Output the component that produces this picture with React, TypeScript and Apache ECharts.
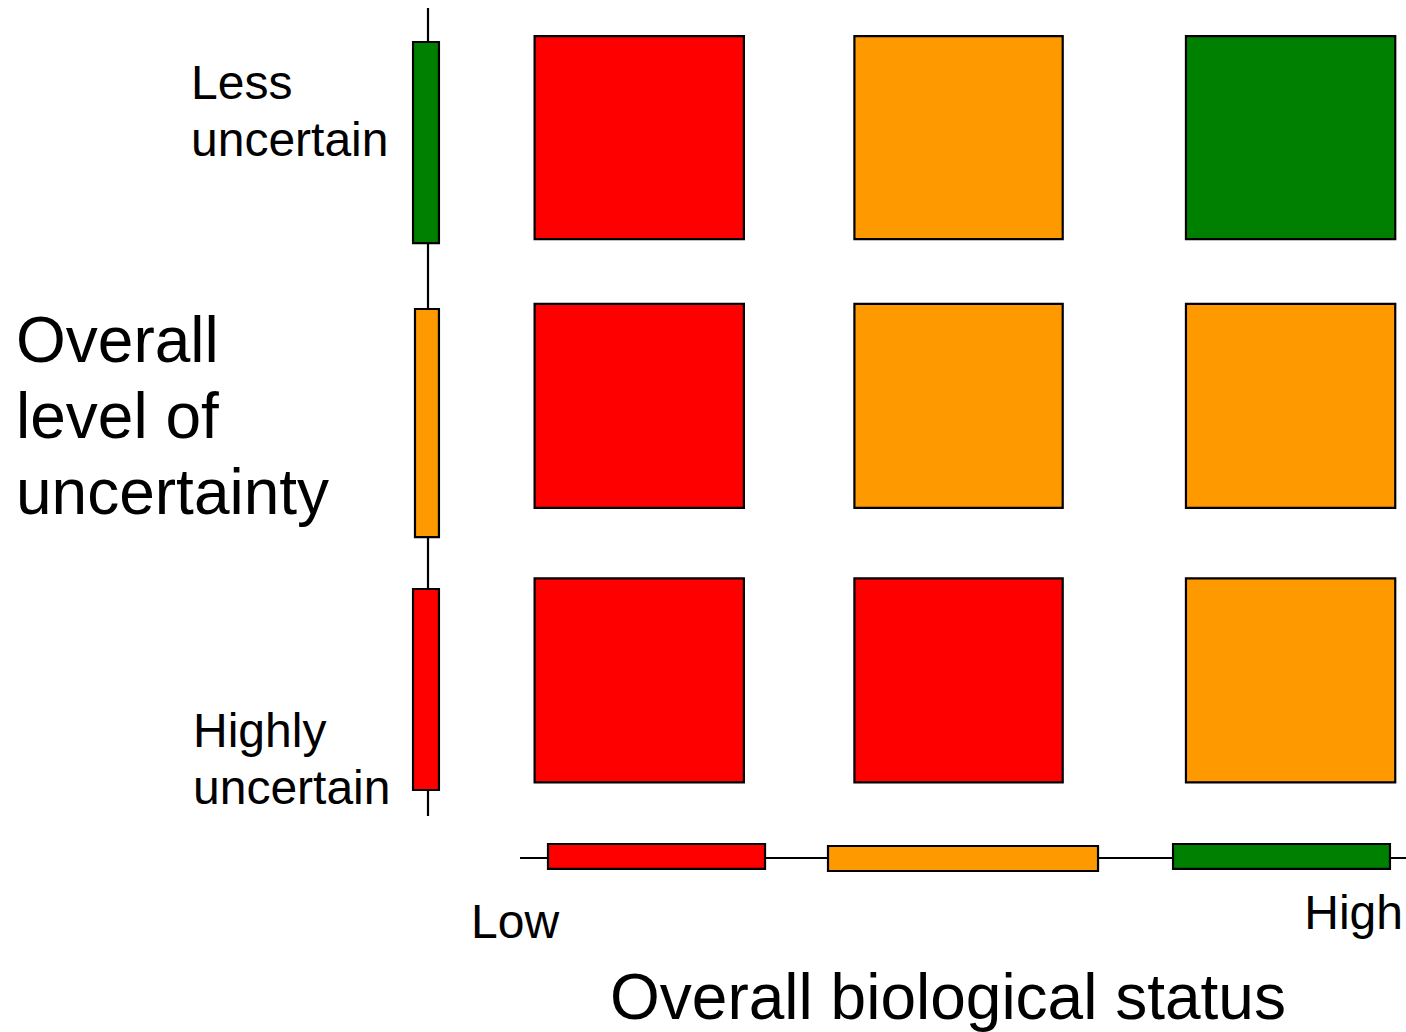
import React, { useEffect, useRef } from "react";
import * as echarts from "echarts";

// Status levels (colour of each level)
const statusColors = ["#FF0000", "#FF9900", "#008000"]; // red, orange, green

// Main 3x3 matrix: x range (biological status scale 0-10), y range (uncertainty scale 0-10)
const colStart = [1.09, 4.36, 7.75];
const colEnd = [3.23, 6.49, 9.89];
// rows from bottom (highly uncertain) to top (less uncertain)
const rowStart = [0.89, 4.12, 7.28];
const rowEnd = [3.29, 6.52, 9.67];
// status index per [row][col], rows bottom -> top
const matrixStatus = [
  [0, 0, 1], // Highly uncertain
  [0, 1, 1], // Medium
  [0, 1, 2], // Less uncertain
];

// Left (uncertainty) legend bars: [x0, x1, y0, y1, status]
const uncertaintyBars = [
  [-0.153, 0.112, 0.8, 3.165, 0],
  [-0.133, 0.112, 3.776, 6.459, 1],
  [-0.153, 0.112, 7.235, 9.6, 2],
];
// Bottom (biological status) legend bars
const statusBars = [
  [1.227, 3.446, -0.129, 0.165, 0],
  [4.09, 6.851, -0.153, 0.141, 1],
  [7.618, 9.836, -0.129, 0.165, 2],
];
// Axis lines: [x0, y0, x1, y1]
const axisLines = [
  [0, 0.494, 0, 10],
  [0.941, 0, 10, 0],
];

const yTickTop = "Less\nuncertain";
const yTickBottom = "Highly\nuncertain";
const yTitle = "Overall\nlevel of\nuncertainty";
const xTickLow = "Low";
const xTickHigh = "High";
const xTitle = "Overall biological status";

const FONT = "'Liberation Sans', Arial, Helvetica, sans-serif";

export default function App() {
  const ref = useRef<HTMLDivElement>(null);
  useEffect(() => {
    if (!ref.current) return;
    const chart = echarts.init(ref.current, undefined, { renderer: "svg" });

    const cells: number[][] = [];
    for (let r = 0; r < 3; r++) {
      for (let c = 0; c < 3; c++) {
        cells.push([colStart[c], colEnd[c], rowStart[r], rowEnd[r], matrixStatus[r][c]]);
      }
    }

    const rectRender = (params: any, api: any) => {
      const x0 = api.value(0), x1 = api.value(1), y0 = api.value(2), y1 = api.value(3);
      const s = api.value(4);
      const p0 = api.coord([x0, y1]);
      const p1 = api.coord([x1, y0]);
      return {
        type: "rect",
        shape: { x: p0[0], y: p0[1], width: p1[0] - p0[0], height: p1[1] - p0[1] },
        style: { fill: statusColors[s], stroke: "#000", lineWidth: 2.2 },
      };
    };

    const lineRender = (params: any, api: any) => {
      const a = api.coord([api.value(0), api.value(1)]);
      const b = api.coord([api.value(2), api.value(3)]);
      return {
        type: "line",
        shape: { x1: a[0], y1: a[1], x2: b[0], y2: b[1] },
        style: { stroke: "#000", lineWidth: 2.2 },
      };
    };

    const textStyle = (text: string, size: number, lh: number) => ({
      text,
      font: `${size}px ${FONT}`,
      fill: "#000",
      lineHeight: lh,
    });

    chart.setOption({
      animation: false,
      backgroundColor: "#fff",
      grid: { left: 428, top: 8, right: 0, bottom: 174 },
      xAxis: { type: "value", min: 0, max: 10, show: false },
      yAxis: { type: "value", min: 0, max: 10, show: false },
      series: [
        { type: "custom", data: axisLines, renderItem: lineRender, clip: false, silent: true },
        { type: "custom", data: uncertaintyBars, renderItem: rectRender, clip: false, silent: true },
        { type: "custom", data: statusBars, renderItem: rectRender, clip: false, silent: true },
        { type: "custom", data: cells, renderItem: rectRender, clip: false, silent: true },
      ],
      graphic: [
        {
          type: "text",
          x: 191,
          y: 111,
          style: { ...textStyle(yTickTop, 48, 57), textAlign: "left", textVerticalAlign: "middle" },
        },
        {
          type: "text",
          x: 193,
          y: 759,
          style: { ...textStyle(yTickBottom, 48, 57), textAlign: "left", textVerticalAlign: "middle" },
        },
        {
          type: "text",
          x: 16,
          y: 416,
          style: { ...textStyle(yTitle, 64, 76), textAlign: "left", textVerticalAlign: "middle" },
        },
        {
          type: "text",
          x: 471,
          y: 921,
          style: { ...textStyle(xTickLow, 48, 52), textAlign: "left", textVerticalAlign: "middle" },
        },
        {
          type: "text",
          x: 1403,
          y: 912,
          style: { ...textStyle(xTickHigh, 48, 52), textAlign: "right", textVerticalAlign: "middle" },
        },
        {
          type: "text",
          x: 948,
          y: 997,
          style: { ...textStyle(xTitle, 64, 64), textAlign: "center", textVerticalAlign: "middle" },
        },
      ],
    });
    return () => chart.dispose();
  }, []);
  return (
    <div
      ref={ref}
      style={{ position: "absolute", left: 0, top: 0, width: 1406, height: 1032 }}
    />
  );
}
